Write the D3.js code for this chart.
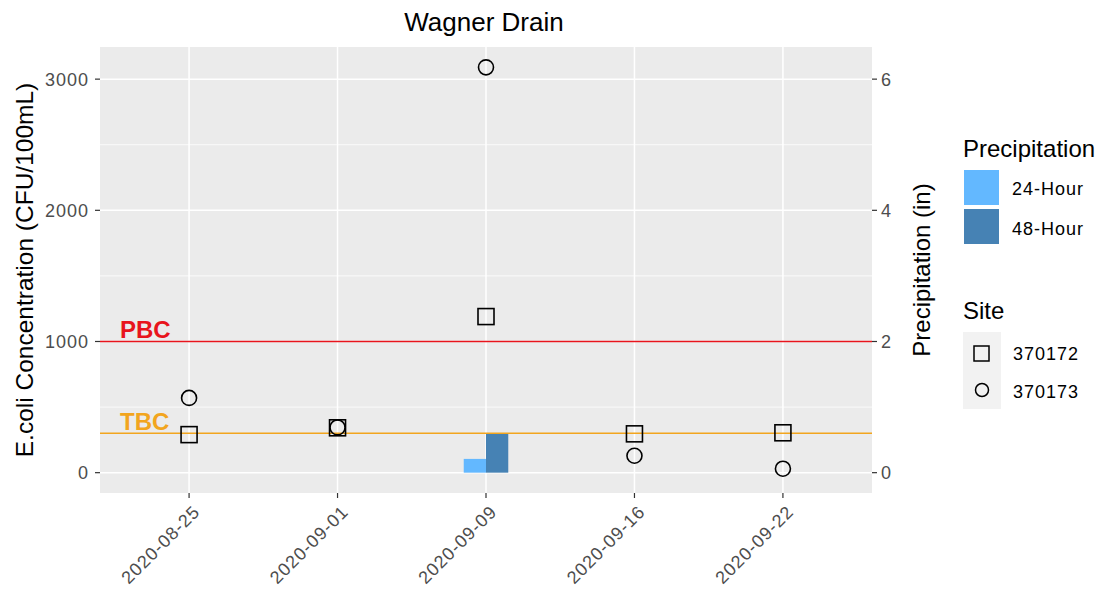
<!DOCTYPE html>
<html>
<head>
<meta charset="utf-8">
<script src="https://cdn.jsdelivr.net/npm/d3@7"></script>
<style>
  body { margin: 0; background: #fff; }
  text { font-family: "Liberation Sans", Arial, sans-serif; }
  .small { font-size: 18px; letter-spacing: 1px; }
</style>
</head>
<body>
<svg id="chart" width="1102" height="599"></svg>
<script>
// sample dates (discrete axis)
var dates = ["2020-08-25", "2020-09-01", "2020-09-09", "2020-09-16", "2020-09-22"]
// E.coli (CFU/100mL) per site
var site370172 = [290, 342, 1190, 296, 304]
var site370173 = [570, 345, 3090, 129, 30]
// precipitation (in)
var precip24 = [0, 0, 0.21, 0, 0]
var precip48 = [0, 0, 0.59, 0, 0]
var leftTicks = [0, 1000, 2000, 3000]
var minorTicks = [500, 1500, 2500]
var rightTicks = [0, 2, 4, 6]
var thresholds = [{ name: "PBC", value: 1000, color: "#E8141C" }, { name: "TBC", value: 300, color: "#F2A51E" }]

var svg = d3.select("#chart")
var panel = { left: 100, right: 872, top: 47, bottom: 493 }
var precipFactor = 500

var x = d3.scalePoint().domain(dates).range([panel.left, panel.right]).padding(0.6)
var y = d3.scaleLinear().domain([-155, 3245]).range([panel.bottom, panel.top])
var yPrecip = d3.scaleLinear().domain([-155 / precipFactor, 3245 / precipFactor]).range([panel.bottom, panel.top])

var grey = "#4D4D4D"

// panel background
svg.append("rect")
	.attr("x", panel.left).attr("y", panel.top)
	.attr("width", panel.right - panel.left).attr("height", panel.bottom - panel.top)
	.attr("fill", "#EBEBEB")

// minor grid
svg.selectAll(".minor").data(minorTicks).enter().append("line")
	.attr("x1", panel.left).attr("x2", panel.right)
	.attr("y1", d => y(d)).attr("y2", d => y(d))
	.attr("stroke", "#fff").attr("stroke-width", 0.8)

// major grid
svg.selectAll(".hmajor").data(leftTicks).enter().append("line")
	.attr("x1", panel.left).attr("x2", panel.right)
	.attr("y1", d => y(d)).attr("y2", d => y(d))
	.attr("stroke", "#fff").attr("stroke-width", 1.5)
svg.selectAll(".vmajor").data(dates).enter().append("line")
	.attr("x1", d => x(d)).attr("x2", d => x(d))
	.attr("y1", panel.top).attr("y2", panel.bottom)
	.attr("stroke", "#fff").attr("stroke-width", 1.5)

// precipitation bars (dodged, width 0.3 of step)
var barW = x.step() * 0.3 / 2
var bars = []
dates.forEach(function(d, i) {
	bars.push({ date: d, v: precip24[i], off: -barW, color: "#63B8FF" })
	bars.push({ date: d, v: precip48[i], off: 0, color: "#4682B4" })
})
svg.selectAll(".bar").data(bars.filter(b => b.v > 0)).enter().append("rect")
	.attr("x", b => x(b.date) + b.off)
	.attr("width", barW)
	.attr("y", b => yPrecip(b.v))
	.attr("height", b => yPrecip(0) - yPrecip(b.v))
	.attr("fill", b => b.color)

// threshold lines and labels
thresholds.forEach(function(t) {
	svg.append("line")
		.attr("x1", panel.left).attr("x2", panel.right)
		.attr("y1", y(t.value)).attr("y2", y(t.value))
		.attr("stroke", t.color).attr("stroke-width", 1.5)
	svg.append("text")
		.attr("x", 120).attr("y", y(t.value) - 3)
		.attr("font-size", 24).attr("font-weight", "bold")
		.attr("fill", t.color)
		.text(t.name)
})

// points
var sq = 16
svg.selectAll(".sq").data(site370172).enter().append("rect")
	.attr("x", (d, i) => x(dates[i]) - sq / 2)
	.attr("y", d => y(d) - sq / 2)
	.attr("width", sq).attr("height", sq)
	.attr("fill", "none").attr("stroke", "#000").attr("stroke-width", 1.6)
svg.selectAll(".ci").data(site370173).enter().append("circle")
	.attr("cx", (d, i) => x(dates[i]))
	.attr("cy", d => y(d))
	.attr("r", 7.5)
	.attr("fill", "none").attr("stroke", "#000").attr("stroke-width", 1.6)

// left axis
var gl = svg.append("g")
gl.selectAll("line").data(leftTicks).enter().append("line")
	.attr("x1", panel.left - 5).attr("x2", panel.left)
	.attr("y1", d => y(d)).attr("y2", d => y(d))
	.attr("stroke", "#333").attr("stroke-width", 1.2)
gl.selectAll("text").data(leftTicks).enter().append("text")
	.attr("class", "small")
	.attr("x", panel.left - 11).attr("y", d => y(d))
	.attr("dy", "0.36em").attr("text-anchor", "end")
	.attr("fill", grey)
	.text(d => d)

// right axis
var gr = svg.append("g")
gr.selectAll("line").data(rightTicks).enter().append("line")
	.attr("x1", panel.right).attr("x2", panel.right + 5)
	.attr("y1", d => yPrecip(d)).attr("y2", d => yPrecip(d))
	.attr("stroke", "#333").attr("stroke-width", 1.2)
gr.selectAll("text").data(rightTicks).enter().append("text")
	.attr("class", "small")
	.attr("x", panel.right + 9).attr("y", d => yPrecip(d))
	.attr("dy", "0.36em").attr("text-anchor", "start")
	.attr("fill", grey)
	.text(d => d)

// bottom axis
var gb = svg.append("g")
gb.selectAll("line").data(dates).enter().append("line")
	.attr("x1", d => x(d)).attr("x2", d => x(d))
	.attr("y1", panel.bottom).attr("y2", panel.bottom + 5)
	.attr("stroke", "#333").attr("stroke-width", 1.2)
gb.selectAll("text").data(dates).enter().append("text")
	.attr("class", "small")
	.attr("transform", d => "translate(" + (x(d) + 3) + "," + (panel.bottom + 11) + ") rotate(-45)")
	.attr("text-anchor", "end").attr("dy", "0.7em")
	.attr("fill", grey)
	.text(d => d)

// titles
svg.append("text")
	.attr("x", 484).attr("y", 31)
	.attr("text-anchor", "middle").attr("font-size", 26).attr("fill", "#000")
	.text("Wagner Drain")
svg.append("text")
	.attr("transform", "translate(33," + (panel.top + panel.bottom) / 2 + ") rotate(-90)")
	.attr("text-anchor", "middle").attr("font-size", 24.5).attr("fill", "#000")
	.text("E.coli Concentration (CFU/100mL)")
svg.append("text")
	.attr("transform", "translate(930," + (panel.top + panel.bottom) / 2 + ") rotate(-90)")
	.attr("text-anchor", "middle").attr("font-size", 24).attr("fill", "#000")
	.text("Precipitation (in)")

// legend: precipitation
var lg = svg.append("g").attr("transform", "translate(963,0)")
lg.append("text").attr("x", 0).attr("y", 157).attr("font-size", 24).text("Precipitation")
var precipKeys = [{ label: "24-Hour", color: "#63B8FF" }, { label: "48-Hour", color: "#4682B4" }]
precipKeys.forEach(function(k, i) {
	lg.append("rect").attr("x", 1).attr("y", 170 + i * 39).attr("width", 35).attr("height", 35).attr("fill", k.color)
	lg.append("text").attr("class", "small").attr("x", 49).attr("y", 189 + i * 40).attr("dy", "0.36em").text(k.label)
})

// legend: site
lg.append("text").attr("x", 0).attr("y", 319).attr("font-size", 24).text("Site")
lg.append("rect").attr("x", 0).attr("y", 332).attr("width", 38).attr("height", 77).attr("fill", "#F2F2F2")
lg.append("rect").attr("x", 11).attr("y", 346).attr("width", 15).attr("height", 15)
	.attr("fill", "none").attr("stroke", "#000").attr("stroke-width", 1.5)
lg.append("circle").attr("cx", 19).attr("cy", 390).attr("r", 6.5)
	.attr("fill", "none").attr("stroke", "#000").attr("stroke-width", 1.5)
lg.append("text").attr("class", "small").attr("x", 50).attr("y", 354).attr("dy", "0.36em").text("370172")
lg.append("text").attr("class", "small").attr("x", 50).attr("y", 392).attr("dy", "0.36em").text("370173")
</script>
</body>
</html>
